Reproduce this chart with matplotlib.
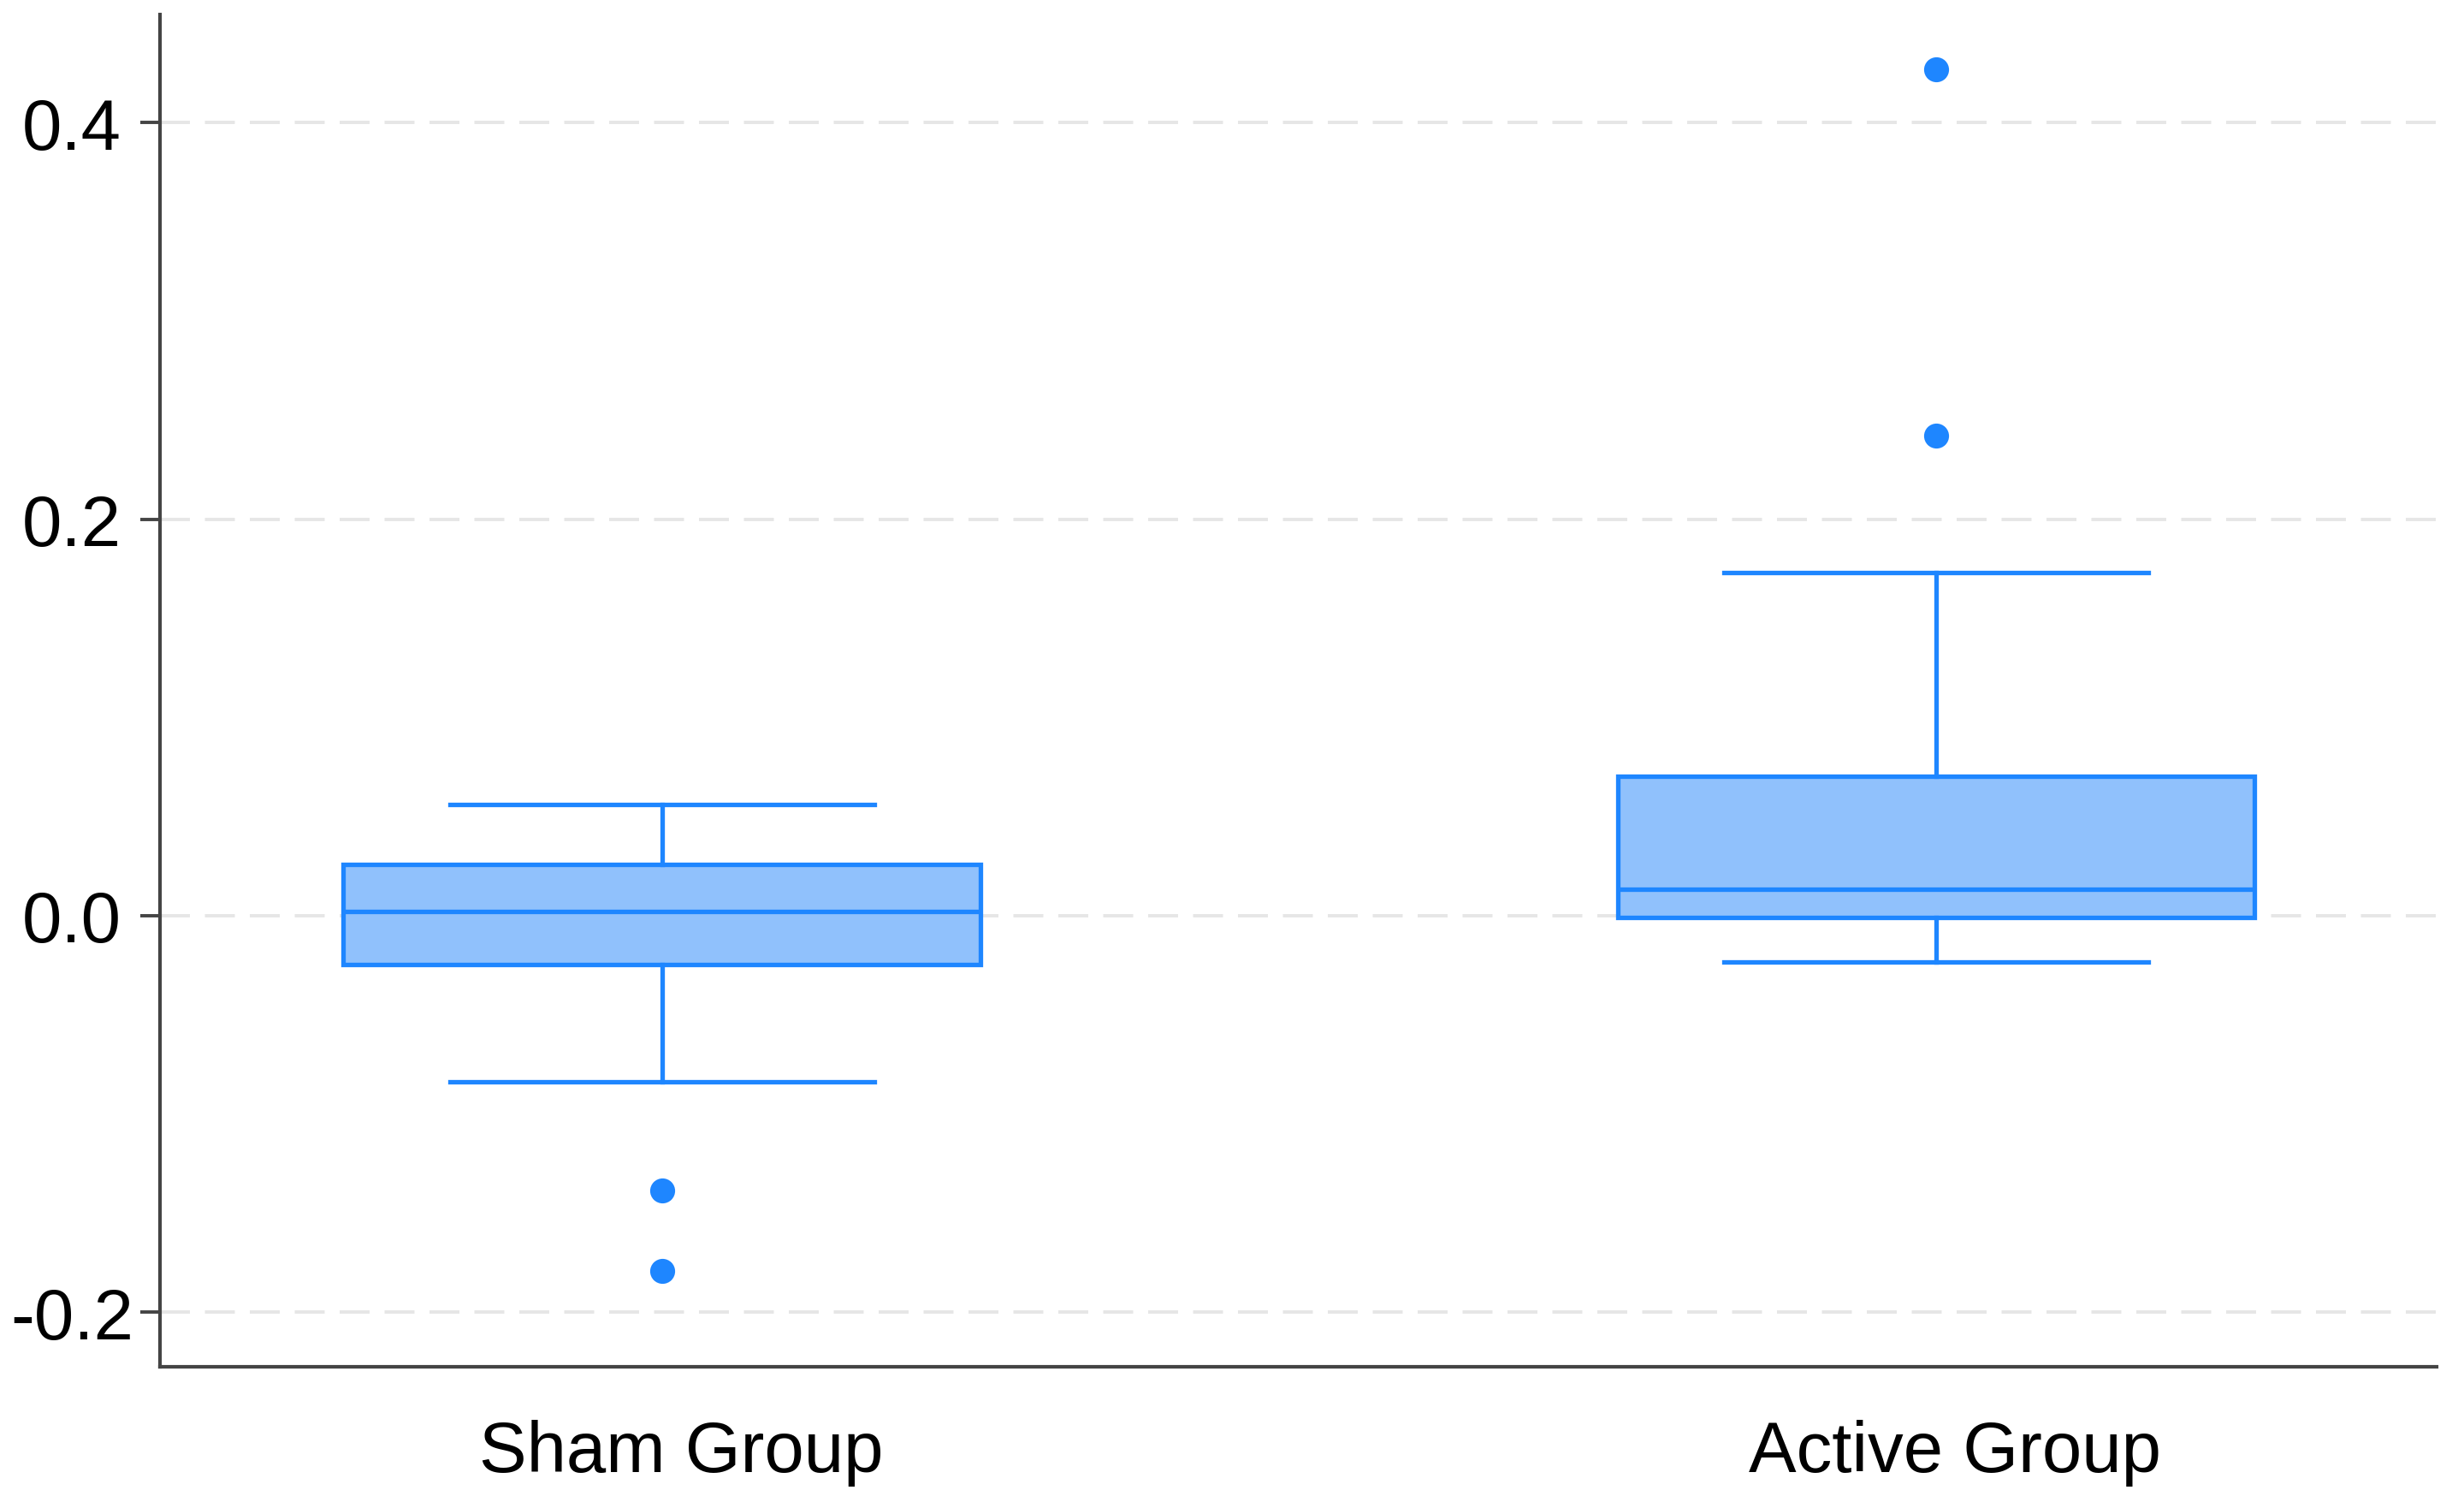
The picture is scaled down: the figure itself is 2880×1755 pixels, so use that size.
import numpy as np
import matplotlib.pyplot as plt
import matplotlib.transforms as mtransforms

# box plot summary
groups = ['Sham Group', 'Active Group']
q1 = [-0.0246, -0.0007]
med = [0.0021, 0.0135]
q3 = [0.0261, 0.0703]
whis_lo = [-0.0839, -0.0235]
whis_hi = [0.0563, 0.1733]
outliers = [[-0.1386, -0.1790], [0.2424, 0.4270]]

yticks = [-0.2, 0.0, 0.2, 0.4]

edge = '#1E86FF'
fill = '#90C1FC'

plt.rcParams['font.family'] = ['Liberation Sans', 'DejaVu Sans']
plt.rcParams['axes.unicode_minus'] = False

stats = []
for i in range(len(groups)):
    stats.append({'label': groups[i], 'q1': q1[i], 'med': med[i], 'q3': q3[i],
                  'whislo': whis_lo[i], 'whishi': whis_hi[i],
                  'fliers': np.array(outliers[i])})

fig = plt.figure(figsize=(14.4, 8.78), dpi=200)
ax = fig.add_axes([0.0651, 0.0900, 0.9238, 0.8995])

lw = 1.9
ax.bxp(stats, positions=[0, 1], widths=0.5, capwidths=0.333, patch_artist=True,
       boxprops=dict(facecolor=fill, edgecolor=edge, linewidth=lw),
       medianprops=dict(color=edge, linewidth=lw),
       whiskerprops=dict(color=edge, linewidth=lw),
       capprops=dict(color=edge, linewidth=lw),
       flierprops=dict(marker='o', markerfacecolor=edge, markeredgecolor=edge,
                       markersize=9.5, linestyle='none'),
       zorder=3)

ax.set_xlim(-0.3936, 1.3928)
ax.set_ylim(-0.2275, 0.4544)
ax.set_yticks(yticks)
ax.set_yticklabels([f'{v:.1f}' for v in yticks])

for y in yticks:
    ax.axhline(y, color='#E6E6E6', linewidth=1.4, dashes=(9, 4.5), zorder=1)

for s in ['top', 'right']:
    ax.spines[s].set_visible(False)
for s in ['left', 'bottom']:
    ax.spines[s].set_color('#444444')
    ax.spines[s].set_linewidth(1.5)

ax.tick_params(axis='y', length=8.3, width=1.4, color='#444444', pad=29, labelsize=30)
ax.tick_params(axis='x', length=0, pad=22, labelsize=30)
# y labels are centred in the original
for lab in ax.get_yticklabels():
    lab.set_horizontalalignment('center')

# labels sit a little right of the box centres in the original
shift = mtransforms.ScaledTranslation(8 / 72, 0, fig.dpi_scale_trans)
for lab in ax.get_xticklabels():
    lab.set_transform(lab.get_transform() + shift)

fig.savefig('out.png', dpi=200)
